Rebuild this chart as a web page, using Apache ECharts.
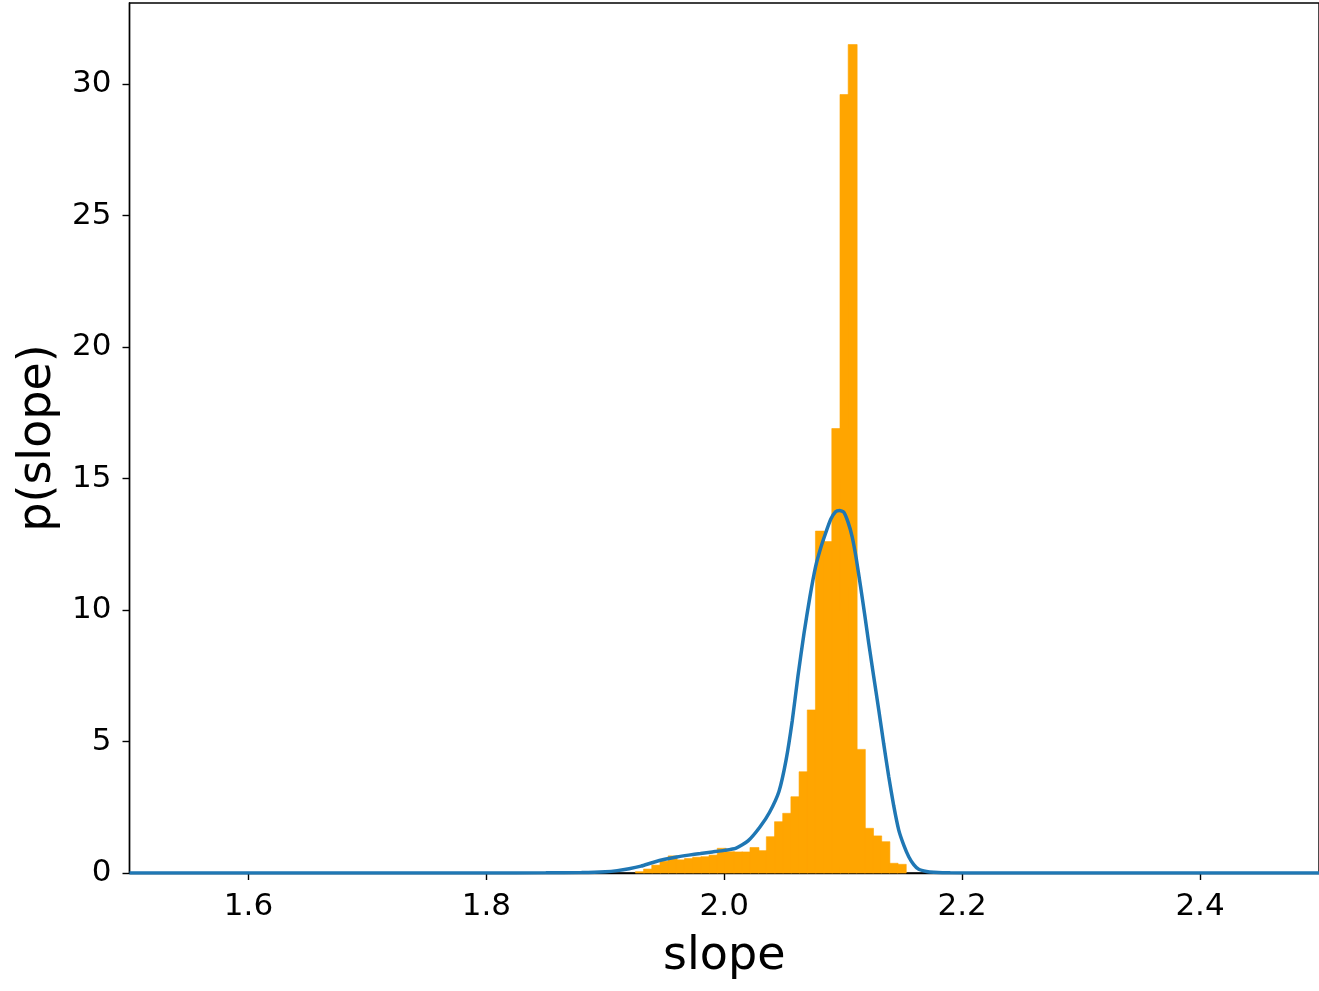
<!DOCTYPE html>
<html>
<head>
<meta charset="utf-8">
<script src="https://cdn.jsdelivr.net/npm/echarts@6/dist/echarts.min.js"></script>
<style>
html,body{margin:0;padding:0;background:#fff;}
#chart{width:1319px;height:991px;}
</style>
</head>
<body>
<div id="chart"></div>
<script>
// Histogram bins (slope)
const binStart = 1.9253;
const binWidth = 0.00688;
const binHeights = [0.05, 0.15, 0.3, 0.45, 0.65, 0.5, 0.55, 0.6, 0.62, 0.68,
  0.94, 0.81, 0.8, 0.8, 0.97, 0.85, 1.38, 1.95, 2.27, 2.9,
  3.85, 6.2, 13.0, 12.6, 16.9, 29.6, 31.5, 4.7, 1.7, 1.41,
  1.19, 0.37, 0.33];

// KDE curve points (x, density)
const kdeX = [1.50, 1.80, 1.85, 1.88, 1.90, 1.91, 1.92, 1.93, 1.94, 1.95,
  1.96, 1.97, 1.98, 1.99, 2.00, 2.01, 2.02, 2.03, 2.038, 2.046,
  2.052, 2.0572, 2.062, 2.067, 2.072, 2.0768, 2.081, 2.0852, 2.0895, 2.0936,
  2.0970, 2.1005, 2.104, 2.1075, 2.111, 2.1146, 2.118, 2.1215, 2.1257, 2.1299,
  2.1341, 2.1383, 2.1425, 2.1467, 2.151, 2.1551, 2.1593, 2.1635, 2.1700, 2.1761,
  2.19, 2.22, 2.50];
const kdeY = [0, 0, 0.005, 0.02, 0.05, 0.09, 0.16, 0.26, 0.4, 0.52,
  0.61, 0.68, 0.74, 0.8, 0.86, 0.95, 1.22, 1.75, 2.3, 3.1,
  4.3, 5.8, 7.5, 9.1, 10.5, 11.65, 12.35, 12.92, 13.45, 13.74,
  13.78, 13.72, 13.35, 12.79, 11.95, 10.89, 9.85, 8.73, 7.45, 6.2,
  4.9, 3.66, 2.55, 1.63, 1.05, 0.62, 0.32, 0.14, 0.06, 0.03,
  0.005, 0, 0];

// Axis ticks
const xTicks = [1.6, 1.8, 2.0, 2.2, 2.4];
const yTicks = [0, 5, 10, 15, 20, 25, 30];

const histData = binHeights.map((h, i) => [binStart + i * binWidth, binStart + (i + 1) * binWidth, h]);
const kdeData = kdeX.map((x, i) => [x, kdeY[i]]);

const chart = echarts.init(document.getElementById('chart'), null, {renderer: 'canvas'});
const font = 'DejaVu Sans';
chart.setOption({
  animation: false,
  backgroundColor: '#ffffff',
  grid: {
    left: 129.5, top: 3, right: -2, bottom: 118,
    show: true, borderColor: '#000', borderWidth: 1.4, backgroundColor: 'transparent'
  },
  xAxis: {
    type: 'value', min: 1.5, max: 2.5,
    name: 'slope', nameLocation: 'middle', nameGap: 61,
    nameTextStyle: {fontFamily: font, fontSize: 46, color: '#000'},
    axisLine: {show: true, lineStyle: {color: '#000', width: 1.4}},
    axisTick: {show: true, length: 7, inside: false, customValues: xTicks, lineStyle: {color: '#000', width: 1.4}},
    axisLabel: {customValues: xTicks, fontFamily: font, fontSize: 31, color: '#000', margin: 18,
      formatter: v => Number(v).toFixed(1)},
    splitLine: {show: false}
  },
  yAxis: {
    type: 'value', min: 0, max: 33.08,
    name: 'p(slope)', nameLocation: 'middle', nameGap: 66, nameRotate: 90,
    nameTextStyle: {fontFamily: font, fontSize: 46, color: '#000'},
    axisLine: {show: true, lineStyle: {color: '#000', width: 1.4}},
    axisTick: {show: true, length: 7, inside: false, customValues: yTicks, lineStyle: {color: '#000', width: 1.4}},
    axisLabel: {customValues: yTicks, fontFamily: font, fontSize: 31, color: '#000', margin: 18,
      formatter: v => String(Math.round(v))},
    splitLine: {show: false}
  },
  series: [
    {
      type: 'custom',
      data: histData,
      encode: {x: [0, 1], y: 2},
      renderItem: function (params, api) {
        const p0 = api.coord([api.value(0), 0]);
        const p1 = api.coord([api.value(1), api.value(2)]);
        return {
          type: 'rect',
          shape: {x: p0[0], y: p1[1], width: p1[0] - p0[0] + 0.8, height: p0[1] - p1[1]},
          style: {fill: '#FFA500', stroke: '#FFA500', lineWidth: 0.6}
        };
      },
      z: 1
    },
    {
      type: 'line',
      data: kdeData,
      showSymbol: false,
      smooth: 0.2,
      lineStyle: {color: '#1f77b4', width: 3.5},
      z: 3
    }
  ]
});
</script>
</body>
</html>
